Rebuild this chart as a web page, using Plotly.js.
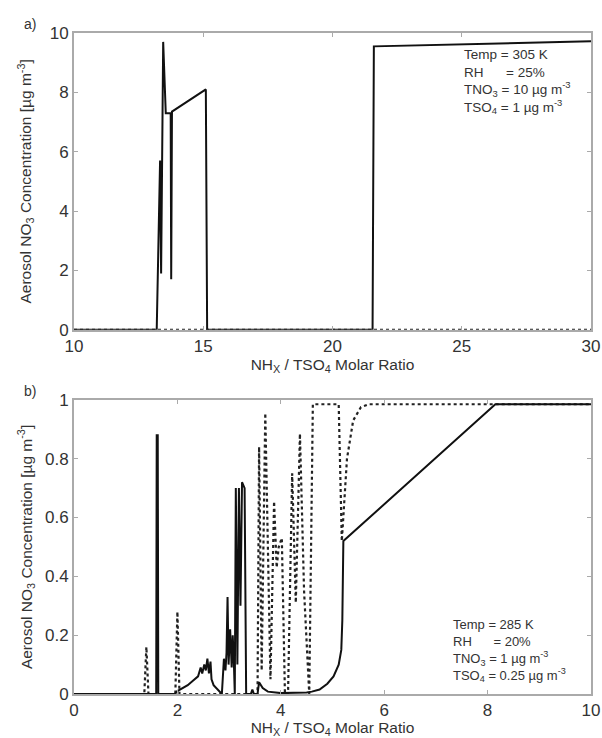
<!DOCTYPE html>
<html><head><meta charset="utf-8">
<script src="https://cdn.plot.ly/plotly-3.0.1.min.js"></script>
<style>body{margin:0;background:#fff}</style>
</head><body>
<div id="chart" style="width:602px;height:738px"></div>
<script>
// Panel a) values
const aSolidX = [10, 13.2, 13.33, 13.37, 13.45, 13.55, 13.74, 13.76, 13.79, 15.1, 15.15, 21.55, 21.6, 30];
const aSolidY = [0, 0, 5.7, 1.9, 9.7, 7.3, 7.3, 1.7, 7.35, 8.1, 0, 0, 9.55, 9.72];
const aDashX = [10, 30];
const aDashY = [0, 0];

// Panel b) values
const bSolidX = [0, 1.59, 1.6, 1.62, 1.63, 1.95, 2.0, 2.05, 2.1, 2.2, 2.3, 2.4, 2.45, 2.48, 2.52, 2.55, 2.58, 2.61, 2.64, 2.66, 2.7, 2.75, 2.8, 2.86,
  2.9, 2.93, 2.95, 2.97, 2.99, 3.02, 3.05, 3.07, 3.09, 3.11, 3.13, 3.16, 3.19, 3.22, 3.25, 3.3, 3.33,
  3.42, 3.45, 3.48, 3.55, 3.58, 3.65, 3.75, 4.0, 4.5, 4.6, 4.75, 4.9, 5.02, 5.12, 5.17, 5.19, 5.21, 8.15, 10];
const bSolidY = [0, 0, 0.88, 0.88, 0, 0, 0.01, 0.015, 0.02, 0.03, 0.045, 0.06, 0.09, 0.07, 0.1, 0.08, 0.12, 0.07, 0.11, 0.05, 0.03, 0.02, 0.01, 0,
  0.12, 0.08, 0.14, 0.33, 0.1, 0.22, 0.09, 0.2, 0.12, 0, 0.70, 0.1, 0.70, 0.3, 0.72, 0.70, 0,
  0, 0.015, 0, 0, 0.04, 0.02, 0.008, 0.003, 0.005, 0.008, 0.015, 0.035, 0.06, 0.1, 0.15, 0.25, 0.52, 0.985, 0.985];
const bDashX = [0, 1.36, 1.40, 1.44, 1.96, 2.0, 2.04, 3.55, 3.58, 3.63, 3.70, 3.80, 3.87, 3.92, 3.96, 4.02, 4.08, 4.14, 4.22, 4.29, 4.37, 4.45, 4.55, 4.62, 5.12, 5.18, 5.28, 5.40, 5.55, 5.7, 10];
const bDashY = [0, 0, 0.16, 0, 0, 0.28, 0, 0, 0.84, 0.08, 0.955, 0.05, 0.655, 0.43, 0.5, 0.53, 0, 0, 0.75, 0.31, 0.885, 0.35, 0, 0.985, 0.985, 0.52, 0.80, 0.93, 0.975, 0.985, 0.985];

const aTicks = [10, 15, 20, 25, 30];
const aYTicks = [0, 2, 4, 6, 8, 10];
const bTicks = [0, 2, 4, 6, 8, 10];
const bYTicks = [0, 0.2, 0.4, 0.6, 0.8, 1];

const solid = {color: '#111', width: 2};
const dotted = {color: '#222', width: 2.2, dash: 'dot'};
const traces = [
  {x: aSolidX, y: aSolidY, mode: 'lines', line: solid, xaxis: 'x', yaxis: 'y', showlegend: false},
  {x: aDashX, y: aDashY, mode: 'lines', line: dotted, xaxis: 'x', yaxis: 'y', showlegend: false},
  {x: bDashX, y: bDashY, mode: 'lines', line: dotted, xaxis: 'x2', yaxis: 'y2', showlegend: false},
  {x: bSolidX, y: bSolidY, mode: 'lines', line: solid, xaxis: 'x2', yaxis: 'y2', showlegend: false}
];

const fam = 'Liberation Sans, Arial, sans-serif';
const tickFont = {family: fam, size: 17, color: '#333'};
const titleFont = {family: fam, size: 15.5, color: '#333'};
const axBase = {
  showgrid: false, zeroline: false, showline: true, linecolor: '#aaa', linewidth: 2,
  mirror: 'ticks', ticks: 'inside', ticklen: 4, tickcolor: '#aaa', tickfont: tickFont
};
const ytitle = 'Aerosol NO<sub>3</sub> Concentration [µg m<sup>-3</sup>]';
const xtitle = 'NH<sub>X</sub> / TSO<sub>4</sub> Molar Ratio';

const layout = {
  width: 602, height: 738,
  margin: {l: 74, r: 11, t: 33, b: 44},
  paper_bgcolor: '#fff', plot_bgcolor: '#fff',
  xaxis: Object.assign({}, axBase, {domain: [0, 1], range: [10, 30], tickvals: aTicks, anchor: 'y',
    title: {text: xtitle, font: titleFont, standoff: 0}}),
  yaxis: Object.assign({}, axBase, {domain: [0.551, 1], range: [0, 10], tickvals: aYTicks, anchor: 'x',
    title: {text: ytitle, font: titleFont, standoff: 14}}),
  xaxis2: Object.assign({}, axBase, {domain: [0, 1], range: [0, 10], tickvals: bTicks, anchor: 'y2',
    title: {text: xtitle, font: titleFont, standoff: 4}}),
  yaxis2: Object.assign({}, axBase, {domain: [0, 0.445], range: [0, 1], tickvals: bYTicks, anchor: 'x2',
    title: {text: ytitle, font: titleFont, standoff: 9}}),
  annotations: [
    {text: 'a)', xref: 'paper', yref: 'paper', x: -0.1, y: 0.998, xanchor: 'left', yanchor: 'bottom', showarrow: false, font: {family: fam, size: 14, color: '#333'}},
    {text: 'b)', xref: 'paper', yref: 'paper', x: -0.1, y: 0.444, xanchor: 'left', yanchor: 'bottom', showarrow: false, font: {family: fam, size: 14, color: '#333'}},
    {text: 'Temp = 305 K<br>RH      = 25%<br>TNO<sub>3</sub> = 10 µg m<sup>-3</sup><br>TSO<sub>4</sub> = 1 µg m<sup>-3</sup>',
      xref: 'x', yref: 'y', x: 25.0, y: 9.6, xanchor: 'left', yanchor: 'top', align: 'left', showarrow: false,
      font: {family: fam, size: 13.5, color: '#333'}},
    {text: 'Temp = 285 K<br>RH      = 20%<br>TNO<sub>3</sub> = 1 µg m<sup>-3</sup><br>TSO<sub>4</sub> = 0.25 µg m<sup>-3</sup>',
      xref: 'x2', yref: 'y2', x: 7.3, y: 0.27, xanchor: 'left', yanchor: 'top', align: 'left', showarrow: false,
      font: {family: fam, size: 13, color: '#333'}}
  ]
};
Plotly.newPlot('chart', traces, layout, {staticPlot: true, displayModeBar: false});
</script>
</body></html>
